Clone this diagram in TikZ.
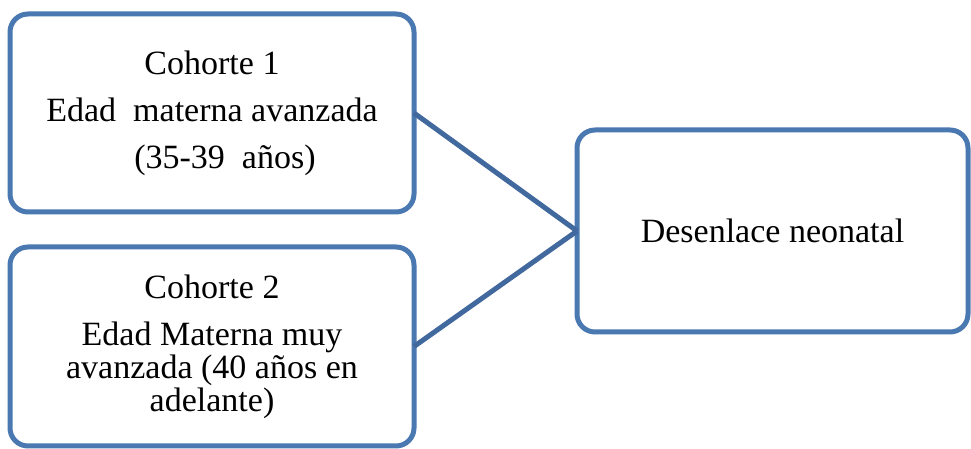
\documentclass[tikz,border=0pt]{standalone}
\usepackage{fontspec}
\setmainfont{Liberation Serif}
\usepackage{xcolor}
\usepackage{tikz}
\definecolor{boxblue}{HTML}{4A78B0}
\definecolor{linkblue}{HTML}{41699E}

\begin{document}
\begin{tikzpicture}[
    txt/.style={font=\fontsize{19.35}{18.8}\selectfont},
    box/.style={draw=boxblue,line width=1mm,rounded corners=3.6mm,fill=white,
      align=center,inner sep=0pt,outer sep=0pt,txt},
    link/.style={draw=linkblue,line width=1mm}]
    \useasboundingbox (0,0) rectangle (19.42,8.98);
    \node[box,minimum width=80.8mm,minimum height=39.6mm] (coh1) at (4.24,6.72)
      {Cohorte 1\\[2.8mm] Edad~ materna avanzada\\[2.8mm] \hspace*{5.2mm}(35-39~ años)};
    \node[box,minimum width=80.8mm,minimum height=39.8mm] (coh2) at (4.24,2.05)
      {Cohorte 2\\[2.8mm] Edad Materna muy\\ avanzada (40 años en\\ adelante)};
    \node[box,minimum width=78.2mm,minimum height=40.4mm] (out) at (15.45,4.36)
      {Desenlace neonatal};
    \draw[link] (coh1.east) -- (out.west);
    \draw[link] (coh2.east) -- (out.west);
  \end{tikzpicture}
\end{document}
